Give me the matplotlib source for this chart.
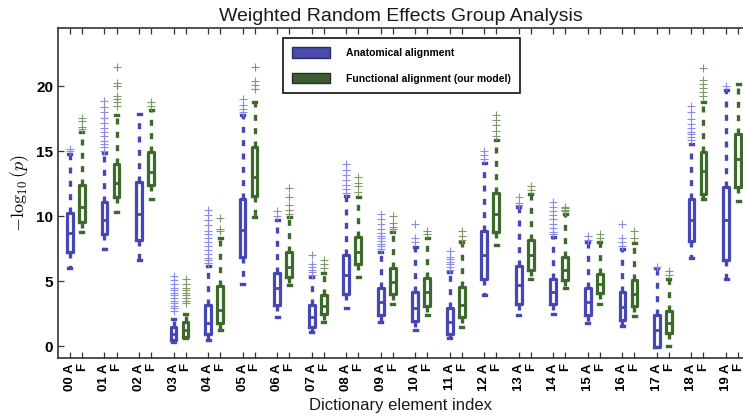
import numpy as np
import matplotlib
matplotlib.use("Agg")
import matplotlib.pyplot as plt
from matplotlib.patches import Patch

plt.rcParams['font.family'] = ['Liberation Sans', 'DejaVu Sans']
plt.rcParams['mathtext.fontset'] = 'cm'

# ------------------------------------------------------------------
# data
# ------------------------------------------------------------------
elements = ['00', '01', '02', '03', '04', '05', '06', '07', '08', '09',
            '10', '11', '12', '13', '14', '15', '16', '17', '18', '19']

# anatomical alignment
anat_lo  = [5.98, 7.5, 6.6, 0.33, 0.46, 4.8, 2.26, 1.1, 2.9, 1.87,
            1.23, 0.59, 3.97, 2.38, 2.46, 1.75, 1.54, -0.05, 6.8, 5.2]
anat_q1  = [7.25, 8.67, 8.15, 0.46, 0.97, 6.87, 3.15, 1.49, 4.05, 2.38,
            1.95, 0.92, 5.2, 3.28, 3.23, 2.38, 2.05, -0.05, 8.1, 6.6]
anat_med = [8.7, 9.7, 10.2, 0.92, 1.75, 8.97, 4.44, 2.26, 5.46, 3.41,
            2.9, 1.87, 7.0, 4.7, 4.18, 3.41, 3.03, 1.23, 9.7, 9.7]
anat_q3  = [10.28, 11.1, 12.64, 1.49, 3.15, 11.36, 5.64, 3.15, 7.0, 4.44,
            4.18, 2.9, 8.85, 6.15, 5.2, 4.5, 4.18, 2.38, 11.3, 12.25]
anat_hi  = [14.8, 14.85, 17.9, 2.1, 6.2, 17.8, 9.7, 5.33, 11.6, 7.25,
            7.64, 5.72, 14.1, 10.7, 8.4, 8.0, 7.5, 5.98, 15.6, 19.7]
anat_fliers = [
    [15.0, 15.2],
    [15.0, 15.3, 15.6, 15.8, 16.2, 16.5, 16.8, 17.2, 17.6, 18.0, 18.4, 18.9],
    [],
    [2.7, 2.9, 3.1, 3.3, 3.5, 3.7, 3.9, 4.1, 4.3, 4.5, 4.8, 5.1, 5.4],
    [6.4, 6.6, 6.8, 7.1, 7.4, 7.7, 8.0, 8.3, 8.6, 8.9, 9.3, 9.7, 10.1, 10.5],
    [18.0, 18.3, 18.6, 19.0],
    [10.0, 10.4],
    [5.5, 5.7, 5.9, 6.1, 6.3, 7.0],
    [11.8, 12.1, 12.4, 12.8, 13.2, 13.6, 14.0],
    [7.5, 7.7, 7.9, 8.1, 8.3, 8.5, 8.7, 9.0, 9.4, 9.8, 10.2],
    [8.0, 8.3, 9.4],
    [5.9, 6.1, 6.3, 6.5, 6.7, 6.9, 7.3],
    [14.4, 14.7, 15.0],
    [10.9, 11.0, 11.5],
    [8.6, 8.8, 9.1, 9.4, 9.8, 10.1, 10.4, 10.7, 11.1],
    [8.2, 8.5],
    [7.7, 8.0, 8.3, 9.4],
    [6.1],
    [15.9, 16.1, 16.3, 16.5, 16.8, 17.1, 17.5, 18.0, 18.5],
    [20.0],
]

# functional alignment (our model)
func_lo  = [8.8, 10.3, 11.36, 0.59, 1.23, 9.95, 4.7, 1.87, 5.33, 3.28,
            2.38, 1.49, 7.77, 5.15, 4.5, 3.28, 2.3, 0.0, 11.36, 11.2]
func_q1  = [9.56, 11.5, 12.38, 0.72, 1.8, 11.6, 5.33, 2.5, 6.36, 4.05,
            3.08, 2.26, 8.8, 5.85, 5.08, 4.1, 3.08, 1.03, 11.75, 12.25]
func_med = [10.7, 12.6, 13.4, 1.23, 2.77, 13.0, 6.1, 3.08, 7.25, 4.95,
            4.18, 3.15, 10.2, 7.0, 5.9, 4.82, 4.05, 1.8, 13.5, 14.44]
func_q3  = [12.38, 14.05, 14.95, 1.87, 4.6, 15.33, 7.25, 3.92, 8.4, 6.05,
            5.26, 4.56, 11.8, 8.2, 6.87, 5.54, 5.08, 2.72, 14.95, 16.36]
func_hi  = [16.5, 17.8, 18.15, 2.5, 8.3, 18.8, 9.95, 5.6, 11.5, 8.8,
            8.3, 8.0, 15.9, 11.75, 10.2, 8.0, 7.95, 5.2, 18.8, 20.2]
func_fliers = [
    [16.7, 16.9, 17.3, 17.6],
    [18.5, 18.8, 19.0, 19.3, 20.0, 20.3, 21.5],
    [18.5, 18.8],
    [3.3, 3.5, 3.7, 3.9, 4.1, 4.3, 4.5, 4.8, 5.2],
    [8.9, 9.0, 9.9],
    [19.8, 20.1, 20.4, 21.5],
    [10.2, 10.5, 10.9, 11.5, 12.2],
    [6.0, 6.3, 6.6],
    [11.9, 12.3, 12.6, 13.0],
    [9.0, 9.2, 9.5, 10.0],
    [8.6, 8.9],
    [8.2, 8.5, 8.9],
    [16.2, 16.6, 17.0, 17.4, 17.8],
    [12.0, 12.3],
    [10.4, 10.5, 10.6, 10.7],
    [8.3, 8.6],
    [8.3, 8.9],
    [5.5, 5.8],
    [19.3, 19.6, 19.9, 20.2, 20.5, 21.4],
    [],
]

BLUE, GREEN = '#4646b4', '#3b6a2c'
BLUE_FL, GREEN_FL = '#8c8ce6', '#7f9a68'


def make_stats(lo, q1, med, q3, hi, fl):
    return [dict(whislo=a, q1=b, med=c, q3=d, whishi=e, fliers=f)
            for a, b, c, d, e, f in zip(lo, q1, med, q3, hi, fl)]


anat_stats = make_stats(anat_lo, anat_q1, anat_med, anat_q3, anat_hi, anat_fliers)
func_stats = make_stats(func_lo, func_q1, func_med, func_q3, func_hi, func_fliers)

step = 2.875
pos_a = 1 + step * np.arange(len(elements))
pos_f = pos_a + 1

fig = plt.figure(figsize=(7.43, 4.18), dpi=100)
ax = fig.add_axes([0.078, 0.144, 0.922, 0.789])


def draw(stats, pos, col, fcol):
    ax.bxp(stats, positions=pos, widths=0.48, capwidths=0.25,
           boxprops=dict(color=col, linewidth=2.3),
           medianprops=dict(color=col, linewidth=2.0),
           whiskerprops=dict(color=col, linewidth=2.4, linestyle=(0, (1.8, 2.2))),
           capprops=dict(color=col, linewidth=2.4),
           flierprops=dict(marker='+', markeredgecolor=fcol, markersize=6,
                           markeredgewidth=0.8, linestyle='none'),
           manage_ticks=False)


draw(anat_stats, pos_a, BLUE, BLUE_FL)
draw(func_stats, pos_f, GREEN, GREEN_FL)

ax.set_xlim(0, 57.04)
ax.set_ylim(-0.9, 24.5)

ticks = np.ravel(np.column_stack([pos_a, pos_f]))
labels = []
for e in elements:
    labels += [f'{e} A', 'F']
ax.set_xticks(ticks)
ax.set_xticklabels(labels, rotation=90, fontsize=9.5, fontweight='bold')
ax.set_yticks([0, 5, 10, 15, 20])
ax.set_yticklabels(['0', '5', '10', '15', '20'], fontsize=11, fontweight='bold')
ax.tick_params(direction='in', top=True, length=4, width=0.9, color='#333333')
ax.tick_params(axis='x', pad=4)

for s in ['left', 'bottom', 'top']:
    ax.spines[s].set_linewidth(1.2)
    ax.spines[s].set_color('#333333')
ax.spines['right'].set_visible(False)

ax.set_title('Weighted Random Effects Group Analysis', fontsize=14, pad=5,
             color='#1a1a1a')
ax.set_xlabel('Dictionary element index', fontsize=12, labelpad=5,
              color='#1a1a1a')
ax.set_ylabel(r'$-\log_{10}(p)$', fontsize=13)
ax.yaxis.set_label_coords(-0.04, 0.5)

handles = [Patch(facecolor='#4a4aa8', edgecolor='#2a2a70', label='Anatomical alignment'),
           Patch(facecolor='#3e5c34', edgecolor='#22331c',
                 label='Functional alignment (our model)')]
leg = ax.legend(handles=handles, loc='upper left', bbox_to_anchor=(0.328, 0.97),
                borderaxespad=0, fancybox=False, framealpha=1,
                edgecolor='#111111', handlelength=3.6, handleheight=1.2,
                labelspacing=1.4, borderpad=0.9, handletextpad=1.6,
                prop=dict(size=7.5, weight='bold'))
leg.get_frame().set_linewidth(1.2)

fig.savefig('out.png', dpi=100)
